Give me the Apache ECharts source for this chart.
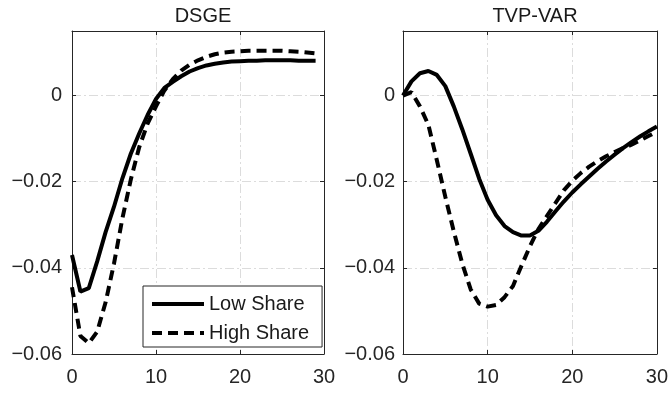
<!DOCTYPE html>
<html>
<head>
<meta charset="utf-8">
<script src="https://cdn.jsdelivr.net/npm/echarts@6/dist/echarts.min.js"></script>
<style>
  html, body { margin: 0; padding: 0; background: #fff; }
  #main { width: 671px; height: 393px; }
</style>
</head>
<body>
<div id="main"></div>
<script>
// panel titles and legend names
const panelTitles = ['DSGE', 'TVP-VAR'];
const seriesNames = ['Low Share', 'High Share'];

// DSGE responses, horizons 0..29
const dsgeLow = [-0.0370, -0.0455, -0.0447, -0.0385, -0.0317, -0.0258, -0.0192, -0.0135, -0.0088, -0.0045,
  -0.0008, 0.0018, 0.0032, 0.0045, 0.0056, 0.0064, 0.0070, 0.0074, 0.0077, 0.0079,
  0.0080, 0.0081, 0.0081, 0.0082, 0.0082, 0.0082, 0.0082, 0.0081, 0.0081, 0.0081];
const dsgeHigh = [-0.0445, -0.0558, -0.0575, -0.0548, -0.0480, -0.0390, -0.0285, -0.0195, -0.0120, -0.0065,
  -0.0025, 0.0012, 0.0038, 0.0058, 0.0072, 0.0082, 0.0090, 0.0096, 0.0100, 0.0102,
  0.0103, 0.0104, 0.0104, 0.0104, 0.0104, 0.0104, 0.0103, 0.0102, 0.0100, 0.0098];

// TVP-VAR responses, horizons 0..30
const tvpLow = [0, 0.0033, 0.0052, 0.0057, 0.0048, 0.0022, -0.0025, -0.0078, -0.0135, -0.0193,
  -0.0242, -0.0278, -0.0303, -0.0317, -0.0325, -0.0325, -0.0314, -0.0293, -0.0269, -0.0246,
  -0.0225, -0.0206, -0.0188, -0.0170, -0.0153, -0.0137, -0.0122, -0.0108, -0.0095, -0.0083, -0.0072];
const tvpHigh = [0, 0.0008, -0.0025, -0.0068, -0.0150, -0.0235, -0.0315, -0.0390, -0.0450, -0.0483,
  -0.0490, -0.0486, -0.0468, -0.0442, -0.0395, -0.0350, -0.0310, -0.0280, -0.0250, -0.0220,
  -0.0198, -0.0180, -0.0165, -0.0152, -0.0141, -0.0131, -0.0122, -0.0114, -0.0104, -0.0094, -0.0084];

const yMin = -0.06, yMax = 0.015, yStep = 0.02;
const xMin = 0, xMax = 30, xStep = 10;

const axisColor = '#262626';
const gridColor = '#dcdcdc';
const font = 'Liberation Sans, Arial, Helvetica, sans-serif';

const pairs = arr => arr.map((v, i) => [i, v]);

function yLabel(v) {
  const k = Math.round(v / yStep);
  if (Math.abs(k * yStep - v) > 1e-9) return '';
  if (k === 0) return '0';
  return (k < 0 ? '\u2212' : '') + Math.abs(k * yStep).toFixed(2);
}

const chart = echarts.init(document.getElementById('main'), null, { renderer: 'canvas' });

const grids = [
  { left: 72, top: 31, width: 252, height: 323 },
  { left: 403, top: 31, width: 254, height: 323 }
];

const xAxes = [], yAxes = [];
grids.forEach((g, gi) => {
  ['bottom', 'top'].forEach(pos => {
    xAxes.push({
      type: 'value', gridIndex: gi, position: pos, min: xMin, max: xMax, interval: xStep,
      axisLine: { show: true, onZero: false, lineStyle: { color: axisColor, width: 1 } },
      axisTick: { show: true, inside: true, length: 4, lineStyle: { color: axisColor } },
      axisLabel: { show: pos === 'bottom', color: axisColor, fontSize: 20, fontFamily: font, margin: 13 },
      splitLine: { show: pos === 'bottom', lineStyle: { color: gridColor, width: 1, type: [9, 3, 2, 3] } }
    });
  });
  ['left', 'right'].forEach(pos => {
    yAxes.push({
      type: 'value', gridIndex: gi, position: pos, min: yMin, max: yMax, interval: yStep,
      axisLine: { show: true, onZero: false, lineStyle: { color: axisColor, width: 1 } },
      axisTick: { show: true, inside: true, length: 4, lineStyle: { color: axisColor } },
      axisLabel: { show: pos === 'left', color: axisColor, fontSize: 20, fontFamily: font,
        margin: gi === 0 ? 10 : 8, formatter: yLabel, showMaxLabel: false },
      splitLine: { show: pos === 'left', lineStyle: { color: gridColor, width: 1, type: [9, 3, 2, 3] } }
    });
  });
});

function lineSeries(name, data, gi, dashed) {
  return {
    name: name, type: 'line', data: pairs(data),
    xAxisIndex: gi * 2, yAxisIndex: gi * 2,
    symbol: 'none', smooth: false, z: 5,
    lineStyle: { color: '#000', width: 4, type: dashed ? [10, 6] : 'solid' },
    itemStyle: { color: '#000' }
  };
}

chart.setOption({
  animation: false,
  backgroundColor: '#fff',
  title: [
    { text: panelTitles[0], left: 198, top: 1, textAlign: 'center',
      textStyle: { fontSize: 20, fontWeight: 'normal', color: '#1a1a1a', fontFamily: font } },
    { text: panelTitles[1], left: 530, top: 1, textAlign: 'center',
      textStyle: { fontSize: 20, fontWeight: 'normal', color: '#1a1a1a', fontFamily: font } }
  ],
  legend: {
    data: seriesNames,
    orient: 'vertical',
    left: 143, top: 286,
    padding: [8, 13, 4, 7],
    itemGap: 9,
    itemWidth: 52, itemHeight: 14,
    borderColor: axisColor, borderWidth: 1,
    backgroundColor: '#fff',
    itemStyle: { opacity: 0 },
    lineStyle: { width: 4 },
    textStyle: { fontSize: 20, color: '#1a1a1a', fontFamily: font },
    selectedMode: false
  },
  grid: grids,
  xAxis: xAxes,
  yAxis: yAxes,
  series: [
    lineSeries(seriesNames[0], dsgeLow, 0, false),
    lineSeries(seriesNames[1], dsgeHigh, 0, true),
    lineSeries(seriesNames[0], tvpLow, 1, false),
    lineSeries(seriesNames[1], tvpHigh, 1, true)
  ]
});
</script>
</body>
</html>
